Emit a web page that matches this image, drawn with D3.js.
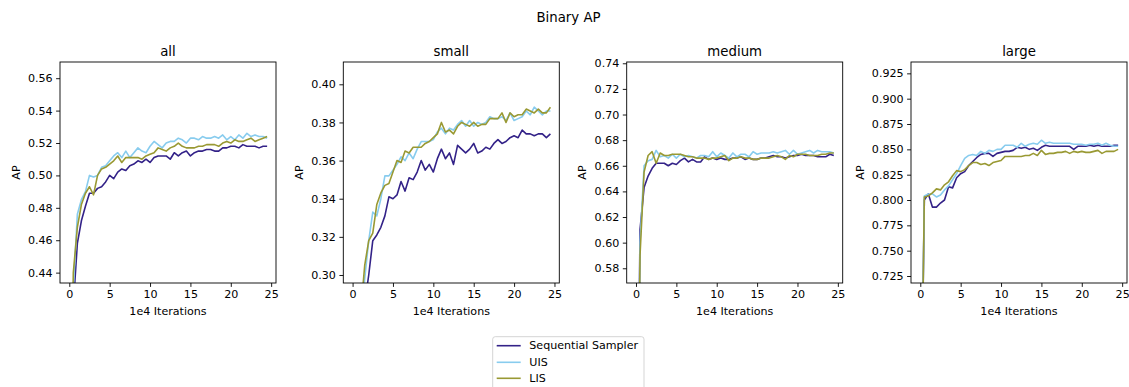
<!DOCTYPE html>
<html><head><meta charset="utf-8">
<script src="https://cdn.jsdelivr.net/npm/d3@7"></script>
<style>body{margin:0;background:#fff}svg{display:block;background:#fff}text{font-family:"DejaVu Sans",sans-serif;fill:#000}</style>
</head><body><svg id="c" width="1129" height="387"></svg>
<script>
// ---------- data ----------
const iterations = d3.range(0, 24.51, 0.5); // 1e4 iterations
const seriesNames = ["Sequential Sampler", "UIS", "LIS"];
const seriesColors = ["#332288", "#88CCEE", "#999933"];
const panelTitles = ["all", "small", "medium", "large"];
const xTickValues = [0, 5, 10, 15, 20, 25];

const allSeq = [0.30,0.42,0.458,0.472,0.481,0.489,0.489,0.492,0.493,0.496,0.500,0.498,0.502,0.504,0.503,0.506,0.507,0.509,0.508,0.510,0.508,0.511,0.512,0.512,0.512,0.510,0.514,0.512,0.514,0.515,0.512,0.514,0.515,0.515,0.516,0.516,0.515,0.515,0.517,0.517,0.518,0.518,0.517,0.519,0.518,0.518,0.518,0.517,0.518,0.518];
const allUIS = [0.30,0.43,0.476,0.485,0.490,0.500,0.499,0.500,0.505,0.506,0.509,0.512,0.514,0.511,0.515,0.511,0.514,0.517,0.515,0.514,0.518,0.521,0.519,0.517,0.520,0.521,0.521,0.523,0.522,0.520,0.523,0.523,0.522,0.524,0.523,0.523,0.524,0.523,0.525,0.522,0.524,0.522,0.525,0.523,0.526,0.524,0.525,0.524,0.524,0.523];
const allLIS = [0.30,0.44,0.468,0.482,0.489,0.493,0.488,0.500,0.504,0.505,0.507,0.509,0.512,0.508,0.511,0.511,0.511,0.511,0.510,0.512,0.513,0.514,0.517,0.516,0.515,0.517,0.518,0.520,0.518,0.517,0.517,0.517,0.518,0.518,0.519,0.519,0.519,0.518,0.520,0.521,0.520,0.522,0.521,0.521,0.522,0.523,0.521,0.522,0.523,0.524];

const smallSeq = [0.10,0.22,0.26,0.285,0.300,0.318,0.321,0.325,0.331,0.341,0.340,0.342,0.349,0.344,0.351,0.350,0.354,0.360,0.355,0.358,0.354,0.361,0.366,0.361,0.364,0.358,0.368,0.366,0.364,0.366,0.369,0.364,0.365,0.367,0.366,0.369,0.371,0.369,0.370,0.372,0.373,0.372,0.376,0.374,0.374,0.373,0.374,0.374,0.372,0.374];
const smallUIS = [0.10,0.22,0.27,0.298,0.318,0.333,0.331,0.340,0.352,0.352,0.355,0.358,0.362,0.360,0.364,0.361,0.366,0.370,0.370,0.370,0.371,0.375,0.377,0.374,0.377,0.376,0.379,0.381,0.378,0.381,0.378,0.380,0.379,0.380,0.383,0.382,0.382,0.383,0.381,0.385,0.381,0.382,0.383,0.386,0.384,0.388,0.386,0.384,0.386,0.386];
const smallLIS = [0.10,0.23,0.28,0.305,0.318,0.322,0.337,0.343,0.347,0.348,0.354,0.360,0.359,0.365,0.364,0.367,0.367,0.367,0.369,0.370,0.372,0.374,0.380,0.375,0.376,0.374,0.378,0.380,0.379,0.378,0.380,0.378,0.379,0.379,0.382,0.382,0.382,0.385,0.380,0.385,0.383,0.384,0.384,0.387,0.386,0.385,0.387,0.385,0.385,0.388];

const mediumSeq = [0.30,0.610,0.643,0.652,0.658,0.662,0.662,0.662,0.660,0.662,0.661,0.664,0.666,0.663,0.665,0.663,0.663,0.667,0.665,0.666,0.665,0.666,0.665,0.665,0.666,0.666,0.667,0.665,0.666,0.665,0.665,0.666,0.666,0.667,0.668,0.667,0.667,0.666,0.667,0.668,0.668,0.669,0.668,0.668,0.668,0.667,0.667,0.667,0.669,0.668];
const mediumUIS = [0.30,0.600,0.660,0.664,0.665,0.672,0.667,0.668,0.666,0.669,0.666,0.669,0.667,0.668,0.667,0.666,0.668,0.668,0.667,0.671,0.667,0.670,0.668,0.666,0.670,0.667,0.669,0.669,0.667,0.671,0.669,0.670,0.670,0.670,0.671,0.670,0.671,0.672,0.669,0.672,0.669,0.670,0.671,0.672,0.670,0.672,0.671,0.671,0.671,0.670];
const mediumLIS = [0.30,0.590,0.655,0.668,0.671,0.662,0.670,0.668,0.668,0.669,0.669,0.669,0.668,0.667,0.667,0.666,0.666,0.666,0.665,0.666,0.666,0.667,0.668,0.664,0.666,0.666,0.667,0.666,0.666,0.665,0.665,0.666,0.666,0.666,0.667,0.668,0.667,0.665,0.668,0.667,0.669,0.669,0.669,0.668,0.668,0.668,0.669,0.669,0.670,0.670];

const largeSeq = [0.50,0.800,0.806,0.793,0.793,0.797,0.800,0.813,0.812,0.822,0.826,0.828,0.834,0.838,0.842,0.845,0.846,0.846,0.843,0.846,0.847,0.848,0.848,0.849,0.852,0.851,0.852,0.850,0.851,0.849,0.852,0.854,0.853,0.853,0.853,0.853,0.853,0.853,0.850,0.853,0.853,0.853,0.854,0.853,0.854,0.853,0.853,0.853,0.854,0.854];
const largeUIS = [0.50,0.804,0.806,0.806,0.803,0.805,0.810,0.814,0.820,0.826,0.834,0.841,0.844,0.845,0.844,0.848,0.846,0.849,0.848,0.850,0.850,0.854,0.854,0.854,0.852,0.856,0.853,0.855,0.856,0.855,0.859,0.856,0.857,0.856,0.856,0.856,0.856,0.856,0.855,0.855,0.855,0.854,0.855,0.855,0.856,0.854,0.856,0.854,0.853,0.853];
const largeLIS = [0.50,0.803,0.804,0.807,0.811,0.810,0.815,0.818,0.824,0.829,0.828,0.830,0.834,0.837,0.837,0.835,0.836,0.834,0.837,0.838,0.839,0.843,0.843,0.843,0.843,0.843,0.844,0.844,0.846,0.844,0.849,0.845,0.846,0.846,0.847,0.847,0.848,0.846,0.848,0.847,0.848,0.847,0.847,0.848,0.849,0.846,0.848,0.848,0.848,0.850];

const panelSeries = [
  [allSeq, allUIS, allLIS],
  [smallSeq, smallUIS, smallLIS],
  [mediumSeq, mediumUIS, mediumLIS],
  [largeSeq, largeUIS, largeLIS]
];
const yDomains = [[0.4336, 0.570], [0.2958, 0.4117], [0.5685, 0.741], [0.7181, 0.9362]];
const yTickValues = [
  [0.44, 0.46, 0.48, 0.50, 0.52, 0.54, 0.56],
  [0.30, 0.32, 0.34, 0.36, 0.38, 0.40],
  [0.58, 0.60, 0.62, 0.64, 0.66, 0.68, 0.70, 0.72, 0.74],
  [0.725, 0.750, 0.775, 0.800, 0.825, 0.850, 0.875, 0.900, 0.925]
];
const yTickFormats = [".2f", ".2f", ".2f", ".3f"];

// ---------- layout ----------
const svg = d3.select("#c");
const W = 1129, H = 387;
const lefts = [60, 343.3, 626.7, 911];
const axW = 216, axTop = 62, axH = 221;
const FS = 11.1, TFS = 13.3;
const tickLen = 3.9;

svg.append("rect").attr("width", W).attr("height", H).attr("fill", "#fff");

svg.append("text").attr("x", 568.5).attr("y", 22).attr("text-anchor", "middle")
  .style("font-size", TFS + "px").text("Binary AP");

panelTitles.forEach((title, p) => {
  const L = lefts[p];
  const x = d3.scaleLinear().domain([-1.15, 25.6]).range([L, L + axW]);
  const y = d3.scaleLinear().domain(yDomains[p]).range([axTop + axH, axTop]);
  const g = svg.append("g");

  const clipId = "clip" + p;
  svg.append("clipPath").attr("id", clipId).append("rect")
    .attr("x", L).attr("y", axTop).attr("width", axW).attr("height", axH);

  const line = d3.line().x((d, i) => x(iterations[i])).y(d => y(d));
  const lg = g.append("g").attr("clip-path", `url(#${clipId})`);
  panelSeries[p].forEach((vals, s) => {
    lg.append("path").datum(vals).attr("d", line)
      .attr("fill", "none").attr("stroke", seriesColors[s])
      .attr("stroke-width", 1.6).attr("stroke-linejoin", "round").attr("stroke-linecap", "butt");
  });

  const xAxis = d3.axisBottom(x).tickValues(xTickValues).tickSize(tickLen).tickPadding(3.5).tickFormat(d3.format("d"));
  const xg = g.append("g").attr("transform", `translate(0,${axTop + axH})`).call(xAxis);
  const yAxis = d3.axisLeft(y).tickValues(yTickValues[p]).tickSize(tickLen).tickPadding(3.5).tickFormat(d3.format(yTickFormats[p]));
  const yg = g.append("g").attr("transform", `translate(${L},0)`).call(yAxis);
  [xg, yg].forEach(a => {
    a.select(".domain").remove();
    a.selectAll(".tick line").attr("stroke", "#000").attr("stroke-width", 0.9);
    a.selectAll(".tick text").style("font-size", FS + "px").style("font-family", '"DejaVu Sans", sans-serif').attr("fill", "#222");
  });

  g.append("rect").attr("x", L).attr("y", axTop).attr("width", axW).attr("height", axH)
    .attr("fill", "none").attr("stroke", "#000").attr("stroke-width", 0.9);

  let maxW = 0;
  yg.selectAll(".tick text").each(function () { maxW = Math.max(maxW, this.getComputedTextLength()); });

  g.append("text").attr("x", L + axW / 2).attr("y", axTop - 6.5).attr("text-anchor", "middle")
    .style("font-size", TFS + "px").text(title);
  g.append("text").attr("x", L + axW / 2).attr("y", 315).attr("text-anchor", "middle")
    .style("font-size", FS + "px").attr("fill", "#222").text("1e4 Iterations");
  const lx = L - 7.5 - maxW - 11.5;
  g.append("text").attr("transform", `translate(${lx},${axTop + axH / 2}) rotate(-90)`)
    .attr("text-anchor", "middle").attr("dominant-baseline", "central")
    .style("font-size", FS + "px").attr("fill", "#222").text("AP");
});

// ---------- legend ----------
const leg = svg.append("g");
leg.append("rect").attr("x", 492.7).attr("y", 336.7).attr("width", 151.3).attr("height", 60)
  .attr("rx", 2.5).attr("fill", "#fff").attr("stroke", "#d0d0d0").attr("stroke-width", 0.9);
const rowY = [345.7, 362.3, 378.3];
seriesNames.forEach((n, i) => {
  leg.append("line").attr("x1", 496.7).attr("x2", 520.7).attr("y1", rowY[i]).attr("y2", rowY[i])
    .attr("stroke", seriesColors[i]).attr("stroke-width", 1.6);
  leg.append("text").attr("x", 529.3).attr("y", rowY[i]).attr("dominant-baseline", "central")
    .style("font-size", FS + "px").attr("fill", "#222").text(n);
});
</script>
</body></html>
